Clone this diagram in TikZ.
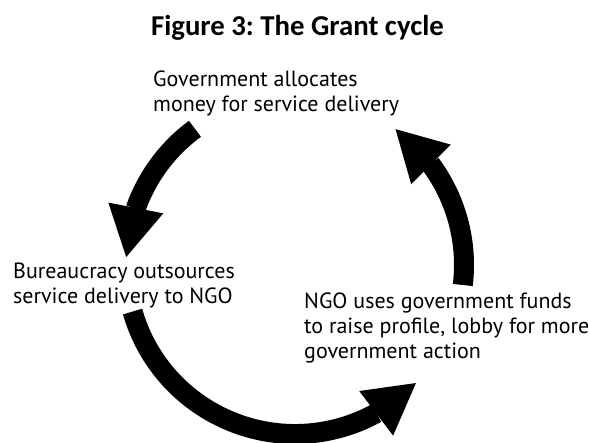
\documentclass[tikz,border=0pt]{standalone}
\usepackage{fontspec}
\setmainfont{PT Sans}
\newfontfamily\titlefont{Carlito}
\usetikzlibrary{arrows.meta,bending}
\frenchspacing
\begin{document}
\begin{tikzpicture}[x=1pt,y=1pt,
  lbl/.style={anchor=base west, inner sep=0pt, font=\fontsize{22}{24.7}\selectfont},
  cyc/.style={line width=20pt, -{Triangle[width=56pt,length=50pt,line width=0pt]}}]
\useasboundingbox (0,0) rectangle (589,442);
\coordinate (c) at (295,177);
\node[anchor=base, inner sep=0pt, font=\titlefont\fontsize{28.8}{32}\selectfont\bfseries] (title) at (297.5,406) {Figure 3: The Grant cycle};
\node[lbl] (gov) at (153,355) {\begin{tabular}[t]{@{}l@{}}Government allocates\\money for service delivery\end{tabular}};
\node[lbl] (bur) at (13,163) {\begin{tabular}[t]{@{}l@{}}Bureaucracy outsources\\service delivery to NGO\end{tabular}};
\node[lbl] (ngo) at (304,133) {\begin{tabular}[t]{@{}l@{}}NGO uses government funds\\to raise profile, lobby for more\\government action\end{tabular}};
\coordinate (s1) at ([shift={(126.3:169pt)}]c);
\coordinate (s2) at ([shift={(196:169pt)}]c);
\coordinate (s3) at ([shift={(-6.8:169pt)}]c);
\draw[cyc] (s1) arc[start angle=126.3, end angle=177.3, radius=169pt];
\draw[cyc] (s2) arc[start angle=196, end angle=315.7, radius=169pt];
\draw[cyc] (s3) arc[start angle=-6.8, end angle=53.5, radius=169pt];
\end{tikzpicture}
\end{document}
